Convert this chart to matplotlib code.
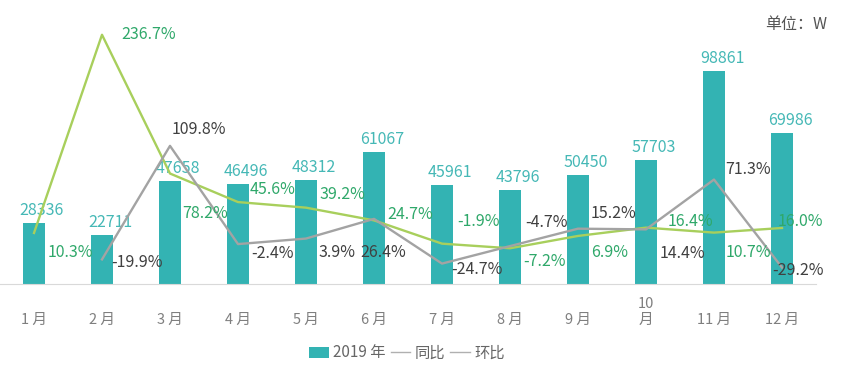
import numpy as np
import matplotlib
matplotlib.use('Agg')
import matplotlib.pyplot as plt

plt.rcParams['font.family'] = ['Noto Sans CJK SC', 'DejaVu Sans']

# data
months = ['1 月', '2 月', '3 月', '4 月', '5 月', '6 月',
          '7 月', '8 月', '9 月', '10\n月', '11 月', '12 月']
sales_2019 = [28336, 22711, 47658, 46496, 48312, 61067,
              45961, 43796, 50450, 57703, 98861, 69986]
yoy = [10.3, 236.7, 78.2, 45.6, 39.2, 24.7, -1.9, -7.2, 6.9, 16.4, 10.7, 16.0]
mom = [np.nan, -19.9, 109.8, -2.4, 3.9, 26.4, -24.7, -4.7, 15.2, 14.4, 71.3, -29.2]

# label offsets in pixels (dx, dy)
yoy_off = [(36, -20), (47, 0), (35, -40), (35, 13), (36, 13), (36, 6),
           (36, 22), (35, -13), (32, -17), (44, 6), (34, -20), (18, 6)]
mom_off = [None, (35, -3), (29, 16), (34, -9), (31, -14), (9, -34),
           (35, -6), (36, 24), (36, 15), (36, -24), (34, 10), (16, -3)]

teal = '#33b3b3'
green_line = '#a8cf5c'
green_text = '#2fa86a'
gray_line = '#a3a3a3'
gray_text = '#404040'

fig = plt.figure(figsize=(8.59, 3.69), dpi=100)
ax = fig.add_axes([0, 85 / 369, 816 / 859, 274 / 369])
x = np.arange(len(months))

bars = ax.bar(x, sales_2019, width=0.31, color=teal, label='2019 年', zorder=2)
ax.set_xlim(-0.5, 11.5)
ax.set_ylim(0, 127000)
for xi, v in zip(x, sales_2019):
    ax.annotate(str(v), (xi, v), xytext=(8, 4), textcoords='offset pixels',
                ha='center', va='bottom', color='#45b8b6', fontsize=11.5)

for s in ['top', 'right', 'left']:
    ax.spines[s].set_visible(False)
ax.spines['bottom'].set_color('#d9d9d9')
ax.set_yticks([])
ax.set_xticks(x)
ax.set_xticklabels(months, fontsize=10.5, color='#7f7f7f')
ax.tick_params(axis='x', length=0, pad=31)
for lab in ax.get_xticklabels():
    lab.set_va('bottom')

ax2 = ax.twinx()
ax2.set_ylim(-48, 265)
for s in ax2.spines.values():
    s.set_visible(False)
ax2.set_yticks([])
l1, = ax2.plot(x, yoy, color=green_line, lw=1.7, label='同比', zorder=3)
l2, = ax2.plot(x, mom, color=gray_line, lw=1.7, label='环比', zorder=3)

for xi, v, off in zip(x, yoy, yoy_off):
    ax2.annotate(f'{v:.1f}%', (xi, v), xytext=off, textcoords='offset pixels',
                 ha='center', va='center', color=green_text, fontsize=11.5)
for xi, v, off in zip(x, mom, mom_off):
    if off is None:
        continue
    ax2.annotate(f'{v:.1f}%', (xi, v), xytext=off, textcoords='offset pixels',
                 ha='center', va='center', color=gray_text, fontsize=11.5)

fig.text(796 / 859, 1 - 25 / 369, '单位：W', ha='center', va='center',
         fontsize=11.5, color='#555555')

# legend lines drawn thin and gray like the reference
h1 = plt.Line2D([], [], color='#b0b0b0', lw=1)
h2 = plt.Line2D([], [], color='#b0b0b0', lw=1)
leg = fig.legend([bars, h1, h2], ['2019 年', '同比', '环比'], loc='center',
                 bbox_to_anchor=(407 / 859, 1 - 353 / 369), ncol=3, frameon=False,
                 fontsize=11, handlelength=1.3, handletextpad=0.3, columnspacing=0.3)
for t in leg.get_texts():
    t.set_color('#666666')

fig.savefig('out.png', dpi=100)
